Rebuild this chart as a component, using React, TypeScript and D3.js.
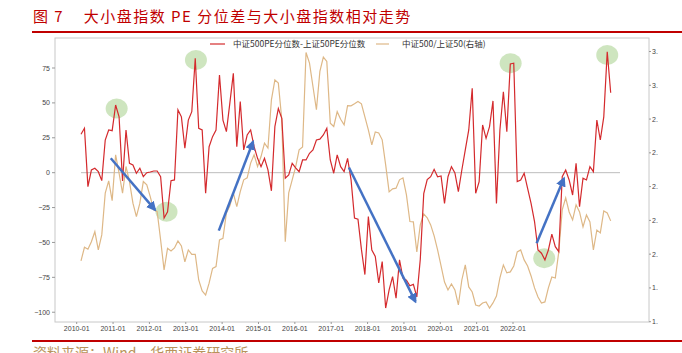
import React, { useRef, useEffect } from 'react';
import * as d3 from 'd3';

// 中证500PE分位数-上证50PE分位数 (left axis), monthly
const spreadValues = [
  27.5, 31.8, -10, 1.9, 3.2, 0.7, -5.7, 23.4, 30.6, 30.1,
  48.5, 40, -6, 30.6, 6.7, 5.5, -0.4, 3.2, -2.9, 0,
  0.5, 1.2, 1.2, -2.9, -32.5, -28, -5.7, -5.2, 45, 40,
  17.5, 37.7, 43.7, 82, 31.8, 30.6, -14.8, 18.6, 25.8, 30.6,
  70, 37.7, 29.4, 50, 71.2, 18.6, 50.9, 16.3, 27, 30.6,
  18.6, 10.3, 4.3, 10.3, 2, -13, 33, 46, 39, -4,
  -1.6, 6.7, 3.4, 0.7, 9.1, 9.1, 13.9, 16.3, 23.4, 24,
  27, 31.8, 9.1, -0.4, 12.7, 4.3, 0.7, 10.3, -5, -32.5,
  -33.4, -55, -73, -31.5, -55.4, -60, -79, -63.7, -97, -84,
  -74.5, -90, -62.5, -75.6, -77, -81, -80, -89, -62, -15,
  -5, -2.9, 2.4, -2.9, -2.4, -22, -2.9, 4.3, -0.2, -13.6,
  1.9, 16.3, 30.6, 60.5, -14.8, -6.4, 34.2, 24.6, 33, 51.4,
  -22, 30.6, 58, 29.4, 77.9, 78.4, -6.4, -5.2, -0.4, -11.2,
  -22, -35, -55.4, -57.7, -62.5, -55.4, -44, -53, -56.6, -2.9,
  1.9, -5.2, -16, 6.7, -24.4, -4, -5.2, 4.3, 0.7, 37.7,
  23.4, 40, 86.7, 57.3,
];

// 中证500/上证50 (right axis), monthly
const ratioValues = [
  1.96, 2.041, 2.029, 2.074, 2.133, 2.025, 2.114, 2.361, 2.434, 2.317,
  2.588, 2.479, 2.361, 2.519, 2.43, 2.302, 2.222, 2.302, 2.43, 2.41,
  2.341, 2.262, 2.252, 2.084, 1.906, 2.035, 2.019, 2.037, 2.078, 2.049,
  1.954, 2.025, 1.999, 1.999, 1.847, 1.782, 1.758, 1.828, 1.916, 1.926,
  2.084, 2.094, 2.244, 2.286, 2.361, 2.281, 2.37, 2.44, 2.452, 2.539,
  2.588, 2.519, 2.578, 2.657, 2.628, 2.914, 3.032, 3.013, 2.796, 2.074,
  2.363, 2.44, 2.517, 2.618, 2.635, 3.194, 3.131, 2.993, 2.855, 3.082,
  3.167, 3.141, 2.776, 2.756, 2.844, 2.799, 2.766, 2.88, 2.878, 2.89,
  2.904, 2.89, 2.813, 2.736, 2.647, 2.724, 2.718, 2.677, 2.529, 2.369,
  2.387, 2.391, 2.44, 2.452, 2.351, 2.193, 2.191, 2.013, 2.173, 2.238,
  2.215, 2.173, 2.108, 2.025, 1.93, 1.835, 1.788, 1.823, 1.788, 1.699,
  1.847, 1.936, 1.806, 1.776, 1.699, 1.693, 1.711, 1.717, 1.681, 1.711,
  1.752, 1.859, 1.936, 1.889, 1.895, 1.93, 2.013, 2.025, 1.966, 1.93,
  1.871, 1.8, 1.746, 1.711, 1.717, 1.8, 1.865, 1.859, 2.013, 2.262,
  2.333, 2.25, 2.203, 2.292, 2.25, 2.161, 2.232, 2.191, 2.025, 2.143,
  2.126, 2.256, 2.244, 2.197,
];

const xLabels = [
  '2010-01', '2011-01', '2012-01', '2013-01', '2014-01', '2015-01', '2016-01',
  '2017-01', '2018-01', '2019-01', '2020-01', '2021-01', '2022-01',
];
const leftTicks = [-100, -75, -50, -25, 0, 25, 50, 75];
const rightTicks = [1.6, 1.8, 2.0, 2.2, 2.4, 2.6, 2.8, 3.0, 3.2];
// the source chart's right labels are clipped to one digit
const rightTickLabels = ['1.', '1.', '2.', '2.', '2.', '2.', '2.', '3.', '3.'];

// annotations in (month index, left-axis value)
const highlights = [
  [10.3, 46], [33.2, 80.7], [24.7, -28], [124.1, 78.4], [152, 84.3], [133.8, -61.3],
];
const arrows = [
  [8.6, 10.3, 21.4, -26.7],
  [39.8, -41.5, 49.7, 22.2],
  [77.4, 3.7, 96.6, -92.4],
  [131.6, -50.6, 139.5, -4],
];

const W = 682;
const H = 353;
const RED = '#d42a2d';
const TAN = '#deb887';
const CJK = '"Noto Sans CJK SC", "Noto Sans", sans-serif';
const LATIN = '"Liberation Sans", Arial, sans-serif';

const App: React.FC = () => {
  const svgRef = useRef<SVGSVGElement | null>(null);

  useEffect(() => {
    const svg = d3.select(svgRef.current);
    svg.selectAll('*').remove();

    const left = 55, right = 649, top = 38, bottom = 322;

    const x = d3.scaleLinear().domain([0, spreadValues.length - 1]).range([81, 610.7]);
    const xTick = d3.scalePoint<string>().domain(xLabels).range([76.7, 513]);
    const yL = d3.scaleLinear().domain([-107, 96.5]).range([bottom, top]);
    const yR = d3.scaleLinear().domain([1.6, 3.28]).range([321.7, top]);

    // title
    svg.append('text')
      .attr('x', 33).attr('y', 22)
      .attr('font-family', CJK).attr('font-size', 15)
      .attr('fill', '#c00000').attr('letter-spacing', 1.5)
      .attr('xml:space', 'preserve')
      .text('图 7    大小盘指数 PE 分位差与大小盘指数相对走势');
    svg.append('line')
      .attr('x1', 32).attr('x2', W).attr('y1', 32).attr('y2', 32)
      .attr('stroke', '#c00000').attr('stroke-width', 2);

    // frame
    svg.append('rect')
      .attr('x', left).attr('y', top)
      .attr('width', right - left).attr('height', bottom - top)
      .attr('fill', 'none').attr('stroke', '#c8c8c8').attr('stroke-width', 1);

    // zero line
    svg.append('line')
      .attr('x1', x(0)).attr('x2', 620)
      .attr('y1', yL(0)).attr('y2', yL(0))
      .attr('stroke', '#bdbdbd').attr('stroke-width', 1);

    // left axis
    const gl = svg.append('g');
    leftTicks.forEach((t) => {
      gl.append('line').attr('x1', left - 3).attr('x2', left)
        .attr('y1', yL(t)).attr('y2', yL(t)).attr('stroke', '#999');
      gl.append('text').attr('x', left - 5).attr('y', yL(t) + 2.5)
        .attr('text-anchor', 'end').attr('font-family', LATIN).attr('font-size', 7)
        .attr('fill', '#444').text(t < 0 ? `\u2212${Math.abs(t)}` : `${t}`);
    });

    // right axis
    const gr = svg.append('g');
    rightTicks.forEach((t, i) => {
      gr.append('line').attr('x1', right).attr('x2', right + 2)
        .attr('y1', yR(t)).attr('y2', yR(t)).attr('stroke', '#999');
      gr.append('text').attr('x', right + 3).attr('y', yR(t) + 2.5)
        .attr('font-family', LATIN).attr('font-size', 7)
        .attr('fill', '#444').text(rightTickLabels[i]);
    });

    // x axis
    const gx = svg.append('g');
    xLabels.forEach((l) => {
      gx.append('line').attr('x1', xTick(l)!).attr('x2', xTick(l)!)
        .attr('y1', bottom).attr('y2', bottom + 2).attr('stroke', '#999');
      gx.append('text').attr('x', xTick(l)!).attr('y', bottom + 9)
        .attr('text-anchor', 'middle').attr('font-family', LATIN).attr('font-size', 7)
        .attr('fill', '#444').text(l);
    });

    // highlight ellipses behind lines
    svg.append('g').selectAll('ellipse').data(highlights).join('ellipse')
      .attr('cx', (d) => x(d[0])).attr('cy', (d) => yL(d[1]))
      .attr('rx', 11).attr('ry', 10)
      .attr('fill', '#c5e0b4').attr('opacity', 0.85);

    const tanLine = d3.line<number>().x((_, i) => x(i)).y((d) => yR(d));
    svg.append('path').datum(ratioValues)
      .attr('d', tanLine).attr('fill', 'none')
      .attr('stroke', TAN).attr('stroke-width', 1.2);

    const redLine = d3.line<number>().x((_, i) => x(i)).y((d) => yL(d));
    svg.append('path').datum(spreadValues)
      .attr('d', redLine).attr('fill', 'none')
      .attr('stroke', RED).attr('stroke-width', 1.2);

    // arrows
    const defs = svg.append('defs');
    defs.append('marker')
      .attr('id', 'arrowHead').attr('viewBox', '0 0 10 10')
      .attr('refX', 8).attr('refY', 5)
      .attr('markerWidth', 4).attr('markerHeight', 4)
      .attr('markerUnits', 'strokeWidth').attr('orient', 'auto')
      .append('path').attr('d', 'M0,0L10,5L0,10z').attr('fill', '#4472c4');
    svg.append('g').selectAll('line').data(arrows).join('line')
      .attr('x1', (d) => x(d[0])).attr('y1', (d) => yL(d[1]))
      .attr('x2', (d) => x(d[2])).attr('y2', (d) => yL(d[3]))
      .attr('stroke', '#4472c4').attr('stroke-width', 2.5)
      .attr('marker-end', 'url(#arrowHead)');

    // legend
    const lg = svg.append('g').attr('font-family', CJK).attr('font-size', 8.5).attr('fill', '#333');
    lg.append('line').attr('x1', 210).attr('x2', 225).attr('y1', 44).attr('y2', 44)
      .attr('stroke', RED).attr('stroke-width', 1.2);
    lg.append('text').attr('x', 233).attr('y', 47).text('中证500PE分位数-上证50PE分位数');
    lg.append('line').attr('x1', 376).attr('x2', 389).attr('y1', 44).attr('y2', 44)
      .attr('stroke', TAN).attr('stroke-width', 1.2);
    lg.append('text').attr('x', 402).attr('y', 47).text('中证500/上证50(右轴)');

    // source
    svg.append('line')
      .attr('x1', 32).attr('x2', W).attr('y1', 341).attr('y2', 341)
      .attr('stroke', '#c00000').attr('stroke-width', 2);
    svg.append('text')
      .attr('x', 33).attr('y', 358)
      .attr('font-family', CJK).attr('font-size', 14)
      .attr('fill', '#b8935a')
      .text('资料来源：Wind，华西证券研究所');
  }, []);

  return (
    <svg
      ref={svgRef}
      width={W}
      height={H}
      style={{ position: 'absolute', left: 0, top: 0, background: '#fff' }}
    />
  );
};

export default App;
